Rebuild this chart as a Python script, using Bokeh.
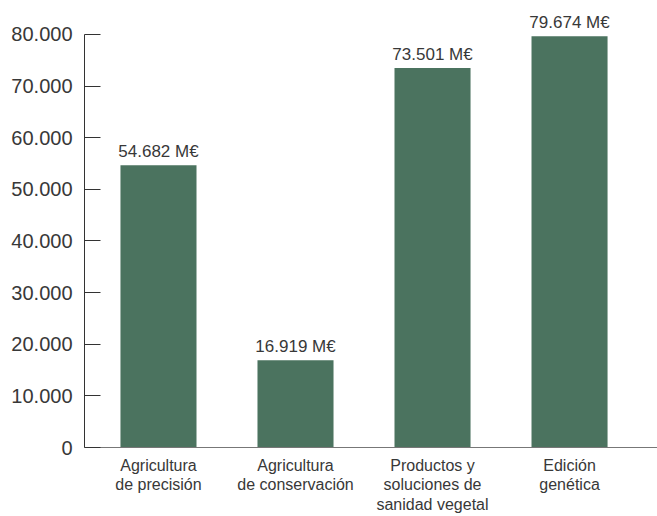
from bokeh.plotting import figure
from bokeh.models import ColumnDataSource, FixedTicker
from bokeh.embed import file_html
from bokeh.resources import INLINE
from bokeh.core.properties import value

categories = ["Agricultura\nde precisión", "Agricultura\nde conservación",
              "Productos y\nsoluciones de\nsanidad vegetal", "Edición\ngenética"]
values = [54682, 16919, 73501, 79674]
value_labels = ["54.682 M€", "16.919 M€", "73.501 M€", "79.674 M€"]
y_ticks = [0, 10000, 20000, 30000, 40000, 50000, 60000, 70000, 80000]
y_tick_labels = ["0", "10.000", "20.000", "30.000", "40.000", "50.000", "60.000", "70.000", "80.000"]

xs = list(range(len(categories)))
src = ColumnDataSource(dict(x=xs, top=values, label=value_labels))

FONT = "Liberation Sans"
TXT = "#383838"

p = figure(width=657, height=516, output_backend="svg", toolbar_location=None,
           x_range=(-0.54, 3.642), y_range=(0, 85617),
           min_border_left=84, min_border_right=0, min_border_top=5, min_border_bottom=69)
p.outline_line_color = None
p.grid.grid_line_color = None
p.background_fill_color = "white"

p.vbar(x="x", top="top", width=0.555, source=src, color="#4B735F", line_color=None)
p.text(x="x", y="top", text="label", source=src, text_align="center",
       text_baseline="bottom", y_offset=-4, text_font=value(FONT),
       text_font_size="17px", text_color=TXT)

ya = p.yaxis[0]
ya.ticker = FixedTicker(ticks=y_ticks)
ya.bounds = (y_ticks[0], y_ticks[-1])
ya.major_label_overrides = {t: l for t, l in zip(y_ticks, y_tick_labels)}
ya.major_tick_in = 16
ya.major_tick_out = 0
ya.minor_tick_line_color = None
ya.axis_line_color = "#333333"
ya.major_tick_line_color = "#333333"
ya.major_label_standoff = 12
ya.major_label_text_font = FONT
ya.major_label_text_font_size = "20px"
ya.major_label_text_color = TXT

xa = p.xaxis[0]
xa.ticker = FixedTicker(ticks=xs)
xa.major_label_overrides = {i: c for i, c in zip(xs, categories)}
xa.major_tick_in = 0
xa.major_tick_out = 0
xa.major_tick_line_color = None
xa.minor_tick_line_color = None
xa.axis_line_color = "#777777"
xa.major_label_standoff = 9
xa.major_label_text_font = FONT
xa.major_label_text_font_size = "16px"
xa.major_label_text_color = TXT
xa.major_label_text_align = "center"
xa.major_label_text_line_height = 1.15

open("out.html", "w").write(file_html(p, INLINE))
